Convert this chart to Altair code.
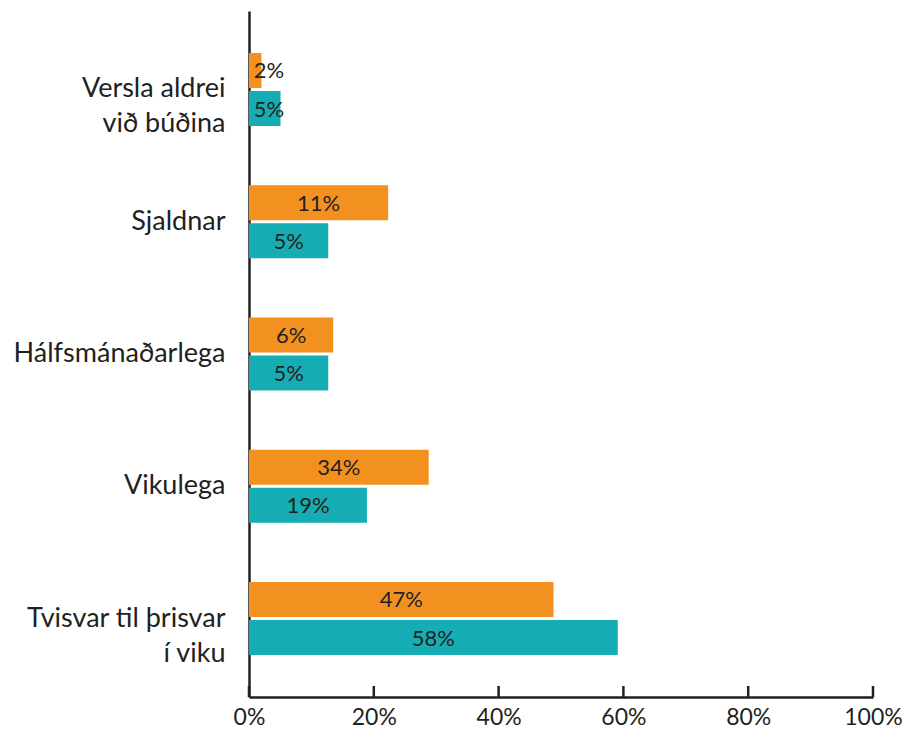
import altair as alt
import pandas as pd

categories = [
    "Versla aldrei|við búðina",
    "Sjaldnar",
    "Hálfsmánaðarlega",
    "Vikulega",
    "Tvisvar til þrisvar|í viku",
]
series = ["A", "B"]
orange_values = [2.0, 22.3, 13.5, 28.8, 48.8]
teal_values = [5.05, 12.7, 12.7, 18.9, 59.1]
orange_labels = ["2%", "11%", "6%", "34%", "47%"]
teal_labels = ["5%", "5%", "5%", "19%", "58%"]
tick_values = [0, 20, 40, 60, 80, 100]

colors = ["#F39120", "#15ADB3"]
ink = "#231F20"

rows = []
for c, v, l in zip(categories, orange_values, orange_labels):
    rows.append({"cat": c, "series": "A", "value": v, "label": l})
for c, v, l in zip(categories, teal_values, teal_labels):
    rows.append({"cat": c, "series": "B", "value": v, "label": l})
df = pd.DataFrame(rows)
ticks_df = pd.DataFrame({"t": tick_values})

W, H = 624, 686
FONT = "Lato"

y_enc = alt.Y(
    "cat:N",
    sort=categories,
    scale=alt.Scale(paddingInner=0.448, paddingOuter=0.3175, align=0.5),
    axis=alt.Axis(
        title=None,
        ticks=False,
        labelExpr="split(datum.label, '|')",
        labelFont=FONT,
        labelFontSize=27,
        labelColor=ink,
        labelLineHeight=35,
        labelPadding=24,
        labelLimit=400,
        domain=True,
        domainColor=ink,
        domainWidth=2.5,
    ),
)
yoff = alt.YOffset("series:N", sort=series, scale=alt.Scale(paddingInner=0.08, paddingOuter=0))

x_scale = alt.Scale(domain=[0, 100], nice=False, zero=True)

bars = alt.Chart(df).mark_bar(cornerRadius=0).encode(
    y=y_enc,
    yOffset=yoff,
    x=alt.X(
        "value:Q",
        scale=x_scale,
        axis=alt.Axis(
            title=None,
            values=tick_values,
            labelExpr="datum.value + '%'",
            labelFlush=False,
            ticks=False,
            grid=False,
            domain=True,
            domainColor=ink,
            domainWidth=2.5,
            labelFont=FONT,
            labelFontSize=23,
            labelColor=ink,
            labelPadding=9,
        ),
    ),
    color=alt.Color("series:N", scale=alt.Scale(domain=series, range=colors), legend=None),
)

texts = alt.Chart(df).transform_calculate(
    lx="max(datum.value / 2, 3.2)"
).mark_text(font=FONT, fontSize=22, color=ink, align="center", baseline="middle", dy=1).encode(
    y=alt.Y("cat:N", sort=categories),
    yOffset=alt.YOffset("series:N", sort=series),
    x=alt.X("lx:Q", scale=x_scale),
    text="label:N",
)

tick_marks = alt.Chart(ticks_df).mark_rule(color=ink, strokeWidth=2.5).encode(
    x=alt.X("t:Q", scale=x_scale),
    y=alt.value(H - 11),
    y2=alt.value(H),
)

chart = alt.layer(bars, texts, tick_marks).properties(
    width=W,
    height=H,
    autosize=alt.AutoSizeParams(type="none"),
    padding={"left": 241, "top": 3, "right": 31, "bottom": 33},
).configure(background="white").configure_view(stroke=None)

chart.save("out.html", embed_options={"renderer": "svg", "actions": False})
